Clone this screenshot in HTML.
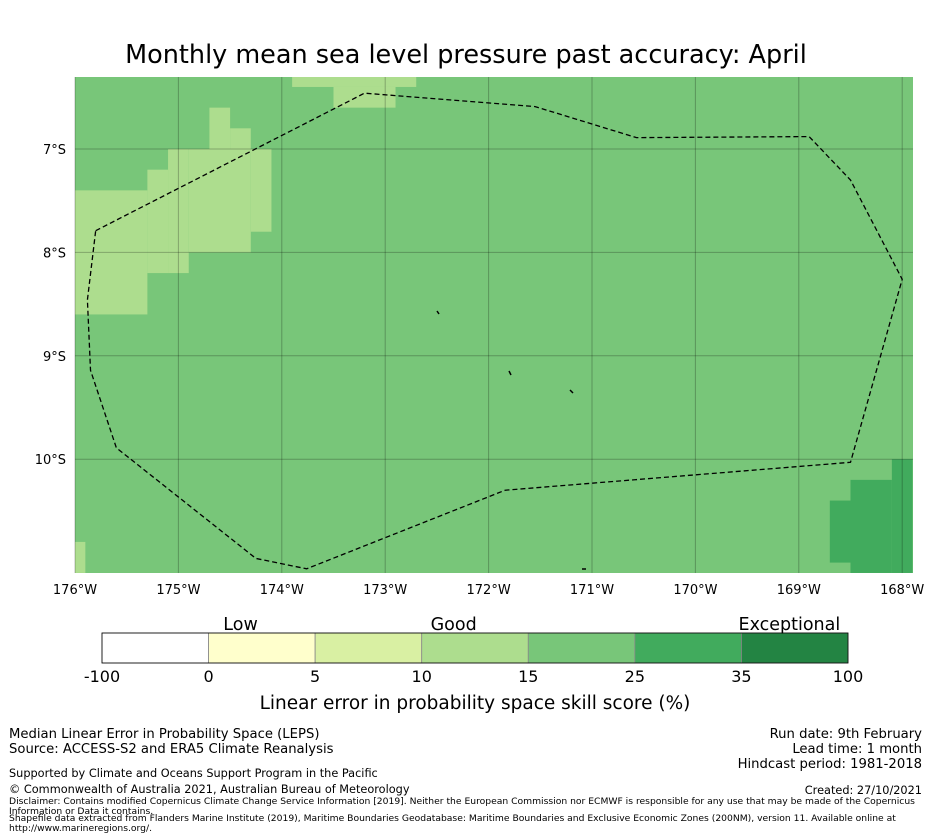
<!DOCTYPE html>
<html><head><meta charset="utf-8"><style>
body{margin:0;background:#fff;width:931px;height:839px;overflow:hidden;font-family:"DejaVu Sans","Liberation Sans",sans-serif;}
svg{position:absolute;left:0;top:0}
</style></head><body>
<svg id="chart" width="931" height="839">
<text x="466" y="63" font-size="25.5" text-anchor="middle" fill="#000">Monthly mean sea level pressure past accuracy: April</text>
<g id="map"></g>
<g id="cbar"></g>
<g font-size="13.2" fill="#000">
<text x="9" y="738">Median Linear Error in Probability Space (LEPS)</text>
<text x="9" y="753">Source: ACCESS-S2 and ERA5 Climate Reanalysis</text>
<text x="9" y="777" font-size="11.3">Supported by Climate and Oceans Support Program in the Pacific</text>
<text x="9" y="793" font-size="11.3">© Commonwealth of Australia 2021, Australian Bureau of Meteorology</text>
<text x="9" y="804" font-size="9.2">Disclaimer: Contains modified Copernicus Climate Change Service Information [2019]. Neither the European Commission nor ECMWF is responsible for any use that may be made of the Copernicus</text>
<text x="9" y="814" font-size="9.2">Information or Data it contains.</text>
<text x="9" y="821" font-size="9.2">Shapefile data extracted from Flanders Marine Institute (2019), Maritime Boundaries Geodatabase: Maritime Boundaries and Exclusive Economic Zones (200NM), version 11. Available online at</text>
<text x="9" y="831" font-size="9.2">http://www.marineregions.org/.</text>
<text x="922" y="738" text-anchor="end">Run date: 9th February</text>
<text x="922" y="753" text-anchor="end">Lead time: 1 month</text>
<text x="922" y="768" text-anchor="end">Hindcast period: 1981-2018</text>
<text x="922" y="794" font-size="11.3" text-anchor="end">Created: 27/10/2021</text>
</g>
</svg>
<script>
const lonTicks=[-176,-175,-174,-173,-172,-171,-170,-169,-168];
const latTicks=[-7,-8,-9,-10];
const lightCells=[[-173.9,-172.7,-6.3,-6.4],[-173.5,-172.9,-6.4,-6.6],[-174.7,-174.5,-6.6,-7.0],[-174.5,-174.3,-6.8,-7.0],
[-176,-175.3,-7.4,-8.6],[-175.3,-175.1,-7.2,-8.2],[-175.1,-174.9,-7.0,-8.2],[-174.9,-174.3,-7.0,-8.0],[-174.3,-174.1,-7.0,-7.8],[-176,-175.9,-10.8,-11.1]];
const darkCells=[[-168.1,-167.9,-10.0,-11.1],[-168.5,-168.1,-10.2,-11.1],[-168.7,-168.5,-10.4,-11.0]];
const eezLon=[-175.8,-173.2,-171.55,-170.57,-168.9,-168.5,-168.0,-168.5,-171.84,-173.76,-174.25,-175.6,-175.85,-175.88,-175.8];
const eezLat=[-7.79,-6.46,-6.59,-6.89,-6.88,-7.3,-8.26,-10.03,-10.3,-11.06,-10.96,-9.89,-9.14,-8.46,-7.79];
const cbLabels=["-100","0","5","10","15","25","35","100"];
const cbColors=["#ffffff","#ffffcc","#d9f0a3","#addd8e","#78c679","#41ab5d","#238443"];
const cbCats=["Low","Good","Exceptional"];
const cbCatPos=[1.3,3.3,6.45];

const NS="http://www.w3.org/2000/svg";
const X0=75,X1=913,Y0=77,Y1=573;
const xs=lon=>75+(lon+176)*103.4;
const ys=lat=>149+(-lat-7)*103.4;
function mk(t,a,p){const e=document.createElementNS(NS,t);for(const k in a)e.setAttribute(k,a[k]);p.appendChild(e);return e;}
const map=document.getElementById('map');
const base=mk('rect',{x:X0,y:Y0,width:X1-X0,height:Y1-Y0,fill:'#78c679'},map);


function cells(arr,col,name){arr.forEach(c=>{const x1=Math.max(X0,xs(c[0])),x2=Math.min(X1,xs(c[1])),y1=Math.max(Y0,ys(c[2])),y2=Math.min(Y1,ys(c[3]));
const r=mk('rect',{x:x1,y:y1,width:x2-x1,height:y2-y1,fill:col},map);

});}
cells(lightCells,'#addd8e','light-cell');
cells(darkCells,'#41ab5d','dark-cell');
lonTicks.forEach(l=>{const x=xs(l);
const g=mk('line',{x1:x,x2:x,y1:Y0,y2:Y1,stroke:'rgba(0,0,0,0.25)','stroke-width':1},map);


const t=mk('text',{x:x,y:594,'font-size':13,'text-anchor':'middle'},map);t.textContent=Math.abs(l)+'°W';

});
latTicks.forEach(l=>{const y=ys(l);
const g=mk('line',{x1:X0,x2:X1,y1:y,y2:y,stroke:'rgba(0,0,0,0.25)','stroke-width':1},map);


const t=mk('text',{x:66,y:y+5,'font-size':13,'text-anchor':'end'},map);t.textContent=Math.abs(l)+'°S';

});
const pts=eezLon.map((l,i)=>xs(l)+','+ys(eezLat[i])).join(' ');
const eez=mk('polyline',{points:pts,fill:'none',stroke:'#000','stroke-width':1.3,'stroke-dasharray':'5,3'},map);


[[437,311,439,314],[509,371,511,375],[570,390,573,393],[582,569,586,569]].forEach(p=>{const s=mk('line',{x1:p[0],y1:p[1],x2:p[2],y2:p[3],stroke:'#000','stroke-width':1.5},map);

});
const cb=document.getElementById('cbar');
const cx0=102,cw=(848-102)/7,cy=633,ch=30;
cbColors.forEach((c,i)=>{const r=mk('rect',{x:cx0+i*cw,y:cy,width:cw,height:ch,fill:c,stroke:'#888','stroke-width':0.8},cb);

});
mk('rect',{x:cx0,y:cy,width:cw*7,height:ch,fill:'none',stroke:'#000','stroke-width':0.8},cb);
cbLabels.forEach((s,i)=>{const t=mk('text',{x:cx0+i*cw,y:682,'font-size':16,'text-anchor':'middle'},cb);t.textContent=s;

});
cbCats.forEach((s,i)=>{const t=mk('text',{x:cx0+cbCatPos[i]*cw,y:630,'font-size':17.5,'text-anchor':'middle'},cb);t.textContent=s;

});
const ct=mk('text',{x:475,y:709,'font-size':18.5,'text-anchor':'middle'},cb);ct.textContent='Linear error in probability space skill score (%)';


</script>
</body></html>
